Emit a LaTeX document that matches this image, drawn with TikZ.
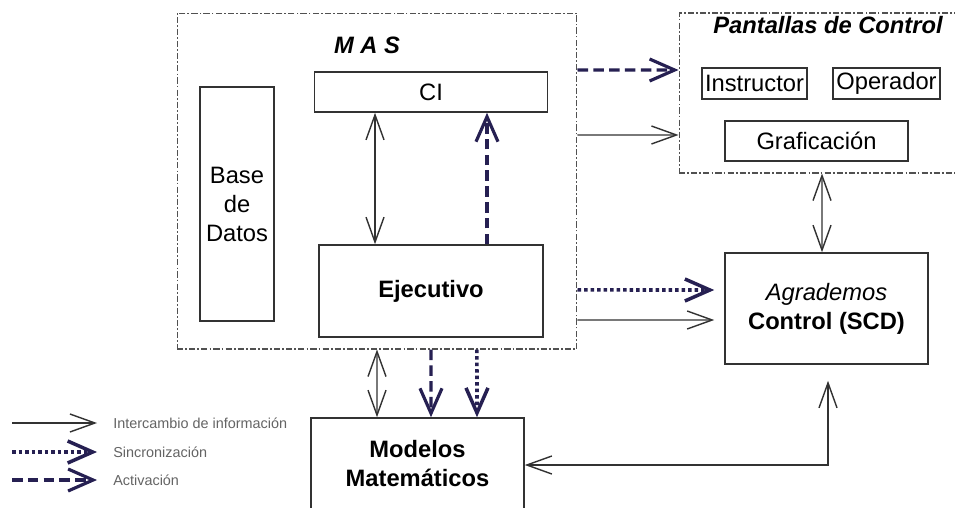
\documentclass[tikz,border=0pt]{standalone}
\usepackage{fontspec}
\setmainfont{Liberation Sans}
\usetikzlibrary{arrows.meta}
\definecolor{linegray}{RGB}{50,50,50}
\definecolor{navy}{RGB}{38,32,82}
\definecolor{legendgray}{RGB}{100,100,100}
\tikzset{
  box/.style={draw=linegray, line width=0.9pt, inner sep=1pt, align=center,
    font=\fontsize{13.5}{16.5}\selectfont},
  group/.style={draw=linegray!85, line width=0.6pt,
    dash pattern=on 3.5pt off 1.2pt on 1pt off 1.2pt},
  title/.style={font=\fontsize{13.5}{16.5}\selectfont\bfseries\itshape},
  legend/.style={anchor=west, inner sep=0pt, text=legendgray,
    font=\fontsize{8.2}{10}\selectfont},
  info/.style={draw=linegray, line width=0.8pt,
    >={Straight Barb[length=0.5cm,width=0.36cm]}},
  activ/.style={draw=navy, line width=1.8pt, dash pattern=on 6pt off 3pt,
    >={Straight Barb[length=0.5cm,width=0.44cm]}},
  sync/.style={draw=navy, line width=2pt, dash pattern=on 2pt off 1.7pt,
    >={Straight Barb[length=0.5cm,width=0.44cm]}}
}

\begin{document}
\begin{tikzpicture}[x=0.02cm, y=-0.02cm]
    \useasboundingbox[fill=white] (0,0) rectangle (955,507);

    % MAS
    \node[group, minimum width=8cm, minimum height=6.72cm] (mas) at (377,181) {};
    \node[title] (mastitle) at (367,45) {M A S};
    \node[box, minimum width=4.66cm, minimum height=0.8cm] (ci) at (431,92) {CI};
    \node[box, minimum width=1.48cm, minimum height=4.68cm] (bd) at (237,204) {Base\\de\\Datos};
    \node[box, minimum width=4.48cm, minimum height=1.84cm] (ejec) at (431,291) {\textbf{Ejecutivo}};

    % pantallas
    \node[group, minimum width=5.58cm, minimum height=3.2cm] (pant) at (818.5,93) {};
    \node[title] (panttitle) at (828,25) {Pantallas de Control};
    \node[box, minimum width=2.1cm, minimum height=0.62cm] (instr) at (754.5,83.5) {Instructor};
    \node[box, minimum width=2.14cm, minimum height=0.62cm] (oper) at (886.5,83.5) {Operador};
    \node[box, minimum width=3.66cm, minimum height=0.8cm] (graf) at (816.5,141) {Graficación};

    \node[box, minimum width=4.06cm, minimum height=2.22cm] (agr) at (826.5,308.5)
        {\textit{Agrademos}\\\textbf{Control (SCD)}};
    \node[box, minimum width=4.26cm, minimum height=1.84cm] (mod) at (417.5,464)
        {\textbf{Modelos}\\\textbf{Matemáticos}};

    % leyenda
    \node[legend] (lginfo) at (113,423) {Intercambio de información};
    \node[legend] (lgsync) at (113,452) {Sincronización};
    \node[legend] (lgact) at (113,480) {Activación};

    \draw[info,->] ([xshift=-2.02cm]lginfo.west) -- ([xshift=-0.32cm]lginfo.west);
    \draw[sync,->] ([xshift=-2.02cm]lgsync.west) -- ([xshift=-0.32cm]lgsync.west);
    \draw[activ,->] ([xshift=-2.02cm]lgact.west) -- ([xshift=-0.32cm]lgact.west);

    % conexiones
    \draw[info,<->] ([xshift=-1.12cm]ci.south) -- ([xshift=-1.12cm]ejec.north);
    \draw[activ,->] ([xshift=1.12cm]ejec.north) -- ([xshift=1.12cm]ci.south);
    \draw[activ,->] ([yshift=2.22cm]mas.east) -- ([yshift=0.46cm]pant.west);
    \draw[info,->] ([yshift=0.92cm]mas.east) -- ([yshift=-0.84cm]pant.west);
    \draw[sync,->,shorten >=0.2cm] ([yshift=-2.18cm]mas.east) -- ([yshift=0.37cm]agr.west);
    \draw[info,->,shorten >=0.2cm] ([yshift=-2.78cm]mas.east) -- ([yshift=-0.23cm]agr.west);
    \draw[info,<->] ([xshift=0.07cm]pant.south) -- ([xshift=-0.09cm]agr.north);
    \draw[info,<->] (mas.south) -- ([xshift=-0.81cm]mod.north);
    \draw[activ,->] ([xshift=1.08cm]mas.south) -- ([xshift=0.27cm]mod.north);
    \draw[sync,->] ([xshift=2cm]mas.south) -- ([xshift=1.19cm]mod.north);
    \draw[info,<->,shorten >=0.32cm] ([yshift=-0.02cm]mod.east) -| ([xshift=0.03cm]agr.south);
\end{tikzpicture}
\end{document}
